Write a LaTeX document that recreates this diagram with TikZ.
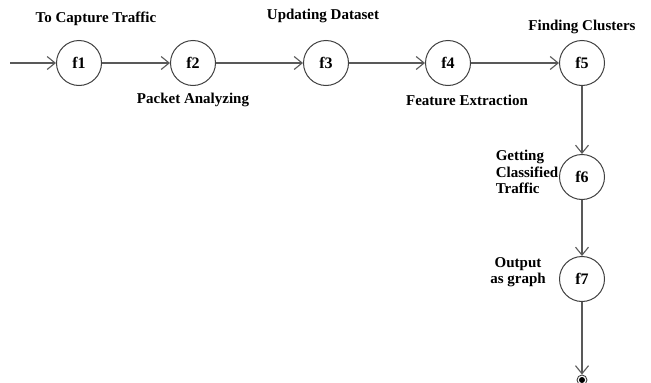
\documentclass[tikz,border=0pt]{standalone}
\usepackage{fontspec}
\setmainfont{Liberation Serif}
\usetikzlibrary{arrows.meta}
\begin{document}
\begin{tikzpicture}[x=1pt,y=-1pt,
  state/.style={circle,draw=black!75,line width=1pt,minimum size=45pt,inner sep=0pt,font=\bfseries\fontsize{16}{17}\selectfont},
  lbl/.style={font=\bfseries\fontsize{15}{16}\selectfont,inner sep=0pt,align=center},
  flow/.style={draw=black!65,line width=1.1pt,-{Straight Barb[length=8pt,width=13pt,line width=1.1pt]}}]
\useasboundingbox (0,0) rectangle (651,383);
\node[state] (f1) at (79,63) {f1};
\node[state] (f2) at (193,63) {f2};
\node[state] (f3) at (326,63) {f3};
\node[state] (f4) at (448,63) {f4};
\node[state] (f5) at (582,63) {f5};
\node[state] (f6) at (582,177) {f6};
\node[state] (f7) at (582,279) {f7};
\coordinate (s) at (10,63);
\node[circle,draw=black!75,line width=0.9pt,minimum size=10pt,inner sep=0pt] (end) at (582,380) {};
\fill[black] (end.center) circle (3pt);
\draw[flow] (s) -- (f1);
\draw[flow] (f1) -- (f2);
\draw[flow] (f2) -- (f3);
\draw[flow] (f3) -- (f4);
\draw[flow] (f4) -- (f5);
\draw[flow] (f5) -- (f6);
\draw[flow] (f6) -- (f7);
\draw[flow] (f7) -- (end);
\node[lbl] (t1) at (96,19) {To Capture Traffic};
\node[lbl] (t2) at (193,100) {Packet Analyzing};
\node[lbl] (t3) at (323,16) {Updating Dataset};
\node[lbl] (t4) at (467,100) {Feature Extraction};
\node[lbl] (t5) at (582,27) {Finding Clusters};
\node[lbl,align=left,font=\bfseries\fontsize{15}{16.5}\selectfont] (t6) at (527,172) {Getting\\Classified\\Traffic};
\node[lbl,font=\bfseries\fontsize{15}{16}\selectfont] (t7) at (518,272) {Output\\as graph};
\end{tikzpicture}
\end{document}
